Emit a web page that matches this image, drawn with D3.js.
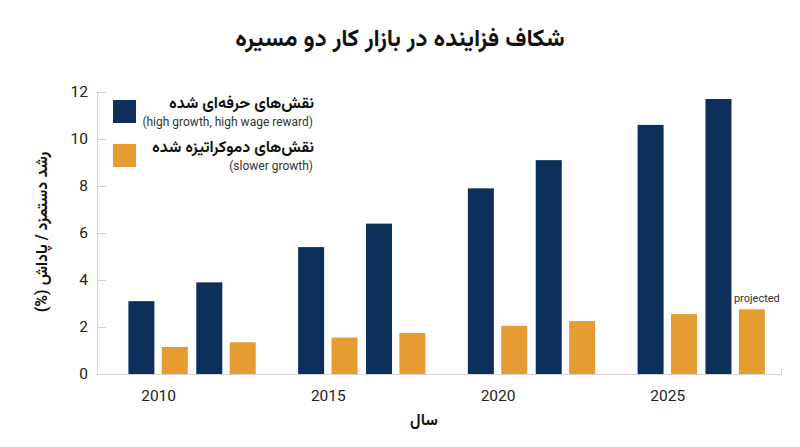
<!DOCTYPE html>
<html>
<head>
<meta charset="utf-8">
<script src="https://cdn.jsdelivr.net/npm/d3@7"></script>
<style>
  body { margin: 0; background: #fff; font-family: Roboto, sans-serif; }
  .axis .domain { stroke: #d3d3d3; }
  .axis .tick line { stroke: #d3d3d3; }
  .axis text { font-family: Roboto, sans-serif; font-size: 15.5px; fill: #222; }
  .fa { font-family: Vazirmatn, "Noto Sans Arabic", sans-serif; font-weight: bold; fill: #111; }
  .title { font-size: 24px; }
  .label { font-size: 16px; }
  .legend-main { font-size: 16px; }
  .legend-sub { font-family: Roboto, sans-serif; font-size: 12px; fill: #333; }
  .note { font-family: Roboto, sans-serif; font-size: 11px; fill: #333; }
</style>
</head>
<body>
<script>
// data
var years = [2010, 2012, 2015, 2017, 2020, 2022, 2025, 2027];
var professionalized = [3.1, 3.9, 5.4, 6.4, 7.9, 9.1, 10.6, 11.7];
var democratized = [1.15, 1.35, 1.55, 1.75, 2.05, 2.25, 2.55, 2.75];
var xTicks = [2010, 2015, 2020, 2025];
var yTicks = [0, 2, 4, 6, 8, 10, 12];

var seriesNames = ["نقش‌های حرفه‌ای شده", "نقش‌های دموکراتیزه شده"];
var seriesNotes = ["(high growth, high wage reward)", "(slower growth)"];
var colors = ["#0d2f5b", "#e59c30"];

var titleText = "شکاف فزاینده در بازار کار دو مسیره";
var xLabel = "سال";
var yLabel = "رشد دستمزد / پاداش (%)";

var margin = {top: 92, right: 19, bottom: 73, left: 97},
    width = 800 - margin.left - margin.right,
    height = 447 - margin.top - margin.bottom;

var barW = 26, barGap = 3.7;

var data = years.map(function(y, i) {
  return {year: y, values: [professionalized[i], democratized[i]]};
});

// scales
var xScale = d3.scaleLinear().domain([2008.2, 2028.35]).range([0, width]);
var yScale = d3.scaleLinear().domain([0, 12]).range([height, 0]);

var svg = d3.select("body").append("svg")
    .attr("width", 800)
    .attr("height", 447);

// persian texts are laid out right-to-left
svg.append("text")
    .attr("class", "fa title")
    .attr("x", 400)
    .attr("y", 46)
    .attr("direction", "rtl")
    .attr("text-anchor", "middle")
    .text(titleText);

var g = svg.append("g")
    .attr("transform", "translate(" + margin.left + "," + margin.top + ")");

// x-axis
g.append("g")
    .attr("class", "x axis")
    .attr("transform", "translate(0," + height + ")")
    .call(d3.axisBottom(xScale).tickValues(xTicks).tickFormat(d3.format("d"))
      .tickSizeInner(0).tickSizeOuter(-5).tickPadding(16));

// y-axis
g.append("g")
    .attr("class", "y axis")
    .call(d3.axisLeft(yScale).tickValues(yTicks)
      .tickSizeInner(-9).tickSizeOuter(0).tickPadding(9));

// bars
var groups = g.selectAll(".year")
    .data(data)
    .enter()
    .append("g")
    .attr("class", "year");

groups.selectAll("rect")
    .data(function(d) { return d.values.map(function(v, k) { return {year: d.year, v: v, k: k}; }); })
    .enter()
    .append("rect")
    .attr("x", function(d) {
      return d.k === 0 ? xScale(d.year) - barGap - barW : xScale(d.year) + barGap;
    })
    .attr("y", function(d) { return yScale(d.v); })
    .attr("width", barW)
    .attr("height", function(d) { return height - yScale(d.v); })
    .attr("fill", function(d) { return colors[d.k]; });

// projected note over the last orange bar
var last = data[data.length - 1];
g.append("text")
    .attr("class", "note")
    .attr("x", xScale(last.year) + barGap + barW / 2 + 5)
    .attr("y", yScale(last.values[1]) - 7)
    .attr("text-anchor", "middle")
    .text("projected");

// axis labels
svg.append("text")
    .attr("class", "fa label")
    .attr("x", 424)
    .attr("y", 425)
    .attr("direction", "rtl")
    .attr("text-anchor", "middle")
    .text(xLabel);

svg.append("text")
    .attr("class", "fa label")
    .attr("transform", "translate(47," + (margin.top + height / 2 - 1) + ") rotate(-90)")
    .attr("direction", "rtl")
    .attr("text-anchor", "middle")
    .text(yLabel);

// legend
var legend = svg.selectAll(".legend")
    .data(seriesNames)
    .enter()
    .append("g")
    .attr("class", "legend")
    .attr("transform", function(d, i) { return "translate(0," + (i * 44) + ")"; });

legend.append("rect")
    .attr("x", 113)
    .attr("y", 100)
    .attr("width", 23)
    .attr("height", 23)
    .attr("fill", function(d, i) { return colors[i]; });

// rtl: "start" is the right-hand edge
legend.append("text")
    .attr("class", "fa legend-main")
    .attr("x", 314)
    .attr("y", 108)
    .attr("direction", "rtl")
    .attr("text-anchor", "start")
    .text(function(d) { return d; });

legend.append("text")
    .attr("class", "legend-sub")
    .attr("x", 313)
    .attr("y", 126)
    .attr("text-anchor", "end")
    .text(function(d, i) { return seriesNotes[i]; });
</script>
</body>
</html>
